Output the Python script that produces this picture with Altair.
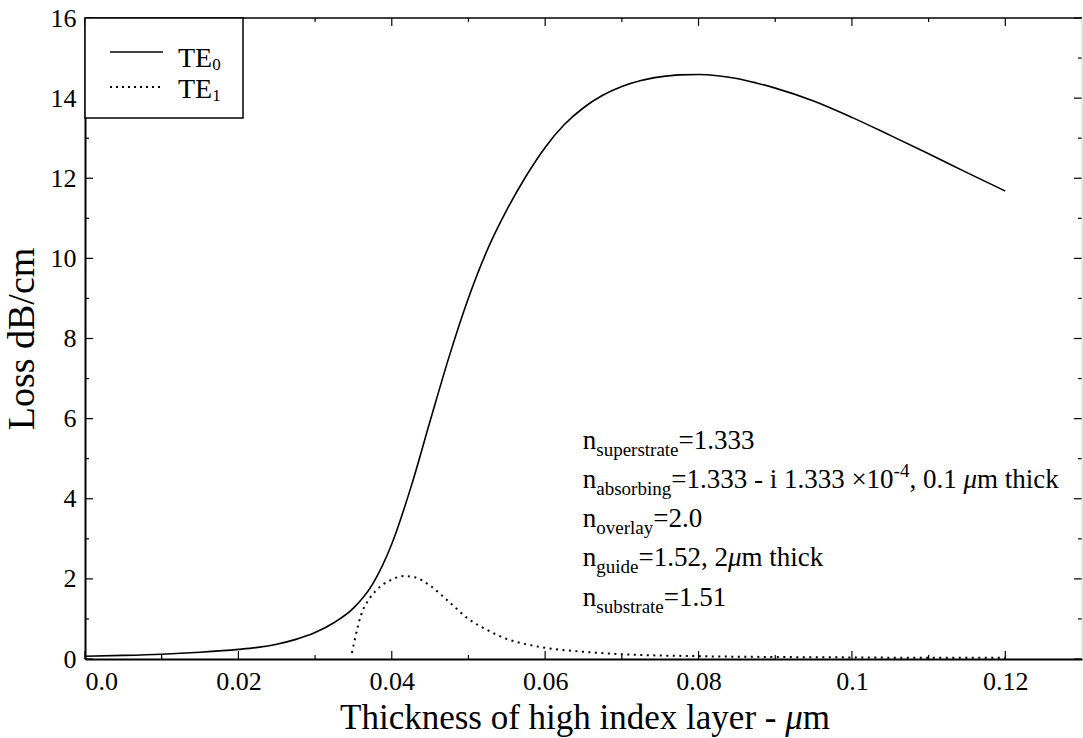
import altair as alt
import pandas as pd

# ---------------- data ----------------
te0_x = [0.0, 0.005, 0.01, 0.015, 0.02, 0.0225, 0.025, 0.0275, 0.03, 0.0325, 0.035, 0.0375,
         0.04, 0.0425, 0.045, 0.0475, 0.05, 0.0525, 0.055, 0.0575, 0.06, 0.0625, 0.065,
         0.0675, 0.07, 0.0725, 0.075, 0.0775, 0.08, 0.0825, 0.085, 0.0875, 0.09, 0.095,
         0.1, 0.105, 0.11, 0.115, 0.12]
te0_y = [0.07, 0.09, 0.12, 0.17, 0.24, 0.29, 0.37, 0.49, 0.66, 0.91, 1.27, 1.87,
         2.87, 4.29, 5.94, 7.56, 9.01, 10.23, 11.21, 12.05, 12.77, 13.34, 13.76,
         14.07, 14.29, 14.44, 14.53, 14.58, 14.59, 14.56, 14.49, 14.38, 14.25, 13.93,
         13.52, 13.07, 12.61, 12.14, 11.68]

te1_x = [0.0348, 0.0355, 0.036, 0.037, 0.038, 0.039, 0.04, 0.0415, 0.043, 0.045, 0.0475,
         0.05, 0.0525, 0.055, 0.0575, 0.06, 0.065, 0.07, 0.08, 0.09, 0.1, 0.11, 0.12]
te1_y = [0.15, 0.75, 1.1, 1.48, 1.72, 1.88, 1.98, 2.07, 2.04, 1.83, 1.42,
         1.0, 0.72, 0.5, 0.37, 0.28, 0.18, 0.12, 0.07, 0.05, 0.04, 0.03, 0.03]

x_major = [0, 0.02, 0.04, 0.06, 0.08, 0.1, 0.12]
x_minor = [0.01, 0.03, 0.05, 0.07, 0.09, 0.11]
y_major = [0, 2, 4, 6, 8, 10, 12, 14, 16]
y_minor = [1, 3, 5, 7, 9, 11, 13, 15]

x_title_parts = [("Thickness of high index layer - ", "n"), ("μ", "it"), ("m", "n")]
y_title = "Loss dB/cm"
legend_names = ["TE", "TE"]
legend_subs = ["0", "1"]

ann_x = 0.0649
ann_y = [5.25, 4.27, 3.29, 2.31, 1.33]
ann_lines = [
    [("n", "n"), ("superstrate", "sub"), ("=1.333", "n")],
    [("n", "n"), ("absorbing", "sub"), ("=1.333 - i 1.333 ×10", "n"), ("-4", "sup"),
     (", 0.1 ", "n"), ("μ", "it"), ("m thick", "n")],
    [("n", "n"), ("overlay", "sub"), ("=2.0", "n")],
    [("n", "n"), ("guide", "sub"), ("=1.52, 2", "n"), ("μ", "it"), ("m thick", "n")],
    [("n", "n"), ("substrate", "sub"), ("=1.51", "n")],
]

# ---------------- layout / style ----------------
W, H = 997, 641
FONT = "Liberation Serif"
TICK_FS = 26
ANN_FS = 27
SUB_FS = 19
TITLE_FS = 35
YTITLE_FS = 38
LEG_FS = 28

TIMES = {' ': 250, ',': 250, '-': 333, '.': 250, '=': 564, '×': 564, '/': 278,
         'a': 444, 'b': 500, 'c': 444, 'd': 500, 'e': 444, 'f': 333, 'g': 500, 'h': 500,
         'i': 278, 'k': 500, 'l': 278, 'm': 778, 'n': 500, 'o': 500, 'p': 500, 'r': 333,
         's': 389, 't': 278, 'u': 500, 'v': 500, 'x': 500, 'y': 500, 'μ': 500,
         'T': 611, 'E': 611, 'B': 667, 'L': 611}


def tw(s, fs):
    return sum(TIMES.get(c, 500) for c in s) / 1000.0 * fs


xs = alt.Scale(domain=[0, 0.13], nice=False, zero=False)
ys = alt.Scale(domain=[0, 16], nice=False)

xaxis = alt.Axis(values=x_major, ticks=False, grid=False, domainColor="black",
                 domainWidth=2, labelFont=FONT, labelFontSize=TICK_FS,
                 labelColor="black", labelPadding=9, title=None,
                 labelExpr="datum.value == 0 ? '0.0' : '' + datum.value")
yaxis = alt.Axis(values=y_major, ticks=False, grid=False, domainColor="black",
                 domainWidth=2, labelFont=FONT, labelFontSize=TICK_FS,
                 labelColor="black", labelPadding=9, title=None)


def X(field):
    return alt.X(field, scale=xs, axis=xaxis, title=None)


def Y(field):
    return alt.Y(field, scale=ys, axis=yaxis, title=None)


one = pd.DataFrame({"k": [0]})

te0_df = pd.DataFrame({"x": te0_x, "y": te0_y})
te1_df = pd.DataFrame({"x": te1_x, "y": te1_y})

te0 = alt.Chart(te0_df).mark_line(color="black", strokeWidth=1.6, interpolate="monotone").encode(
    x=X("x:Q"), y=Y("y:Q"))
te1 = alt.Chart(te1_df).mark_line(color="black", strokeWidth=2, strokeDash=[2, 4.5],
                                  interpolate="monotone").encode(x=X("x:Q"), y=Y("y:Q"))

layers = [te0, te1]


# ticks (inward) on all four sides
def xticks(vals, length):
    d = pd.DataFrame({"v": vals})
    b = alt.Chart(d).mark_rule(color="black", strokeWidth=1.2).encode(
        x=X("v:Q"), y=alt.value(H), y2=alt.value(H - length))
    t = alt.Chart(d).mark_rule(color="black", strokeWidth=1.2).encode(
        x=X("v:Q"), y=alt.value(0), y2=alt.value(length))
    return [b, t]


def yticks(vals, length):
    d = pd.DataFrame({"v": vals})
    l = alt.Chart(d).mark_rule(color="black", strokeWidth=1.2).encode(
        y=Y("v:Q"), x=alt.value(0), x2=alt.value(length))
    r = alt.Chart(d).mark_rule(color="black", strokeWidth=1.2).encode(
        y=Y("v:Q"), x=alt.value(W), x2=alt.value(W - length))
    return [l, r]


layers += xticks(x_major, 8) + xticks(x_minor, 4) + yticks(y_major, 8) + yticks(y_minor, 4)

# top frame line and faint right edge
layers.append(alt.Chart(one).mark_rule(color="black", strokeWidth=1.5).encode(
    x=alt.value(0), x2=alt.value(W), y=alt.value(0)))
layers.append(alt.Chart(one).mark_rule(color="#cccccc", strokeWidth=1).encode(
    x=alt.value(W), y=alt.value(0), y2=alt.value(H)))

# legend box
layers.append(alt.Chart(one).mark_rect(fill="white", stroke="black", strokeWidth=1.5).encode(
    x=alt.value(0), x2=alt.value(158), y=alt.value(0), y2=alt.value(100)))
layers.append(alt.Chart(one).mark_rule(color="black", strokeWidth=1.6).encode(
    x=alt.value(25), x2=alt.value(78), y=alt.value(34)))
layers.append(alt.Chart(one).mark_rule(color="black", strokeWidth=2, strokeDash=[2, 4]).encode(
    x=alt.value(25), x2=alt.value(78), y=alt.value(69)))
for i, (nm, sb) in enumerate(zip(legend_names, legend_subs)):
    by = 49 + i * 31
    layers.append(alt.Chart(one).mark_text(font=FONT, fontSize=LEG_FS, align="left",
                                           baseline="alphabetic", color="black").encode(
        x=alt.value(93), y=alt.value(by), text=alt.value(nm)))
    layers.append(alt.Chart(one).mark_text(font=FONT, fontSize=17, align="left",
                                           baseline="alphabetic", color="black",
                                           dx=tw(nm, LEG_FS), dy=3).encode(
        x=alt.value(93), y=alt.value(by), text=alt.value(sb)))

# annotation block
for yv, parts in zip(ann_y, ann_lines):
    off = 0.0
    for txt, st in parts:
        fs = ANN_FS if st in ("n", "it") else SUB_FS
        dy = 7 if st == "sub" else (-11 if st == "sup" else 0)
        layers.append(alt.Chart(one).mark_text(
            font=FONT, fontSize=fs, align="left", baseline="alphabetic", color="black",
            fontStyle="italic" if st == "it" else "normal", dx=off, dy=dy).encode(
            x=alt.XDatum(ann_x, scale=xs, axis=xaxis),
            y=alt.YDatum(yv, scale=ys, axis=yaxis),
            text=alt.value(txt)))
        off += tw(txt, fs)

# x axis title (with italic mu)
total = sum(tw(t, TITLE_FS) for t, _ in x_title_parts)
start = 500 - total / 2
off = 0.0
for txt, st in x_title_parts:
    layers.append(alt.Chart(one).mark_text(
        font=FONT, fontSize=TITLE_FS, align="left", baseline="alphabetic", color="black",
        fontStyle="italic" if st == "it" else "normal", dx=off).encode(
        x=alt.value(start), y=alt.value(711), text=alt.value(txt)))
    off += tw(txt, TITLE_FS)

# y axis title
layers.append(alt.Chart(one).mark_text(
    font=FONT, fontSize=YTITLE_FS, align="center", baseline="alphabetic", color="black",
    angle=270).encode(x=alt.value(-51), y=alt.value(321), text=alt.value(y_title)))

chart = alt.layer(*layers).properties(
    width=W, height=H,
    autosize=alt.AutoSizeParams(type="none"),
    padding={"left": 85, "top": 18, "right": 1, "bottom": 79},
    background="white",
).configure_view(stroke=None)

chart.save("out.html", embed_options={"renderer": "svg", "actions": False})
